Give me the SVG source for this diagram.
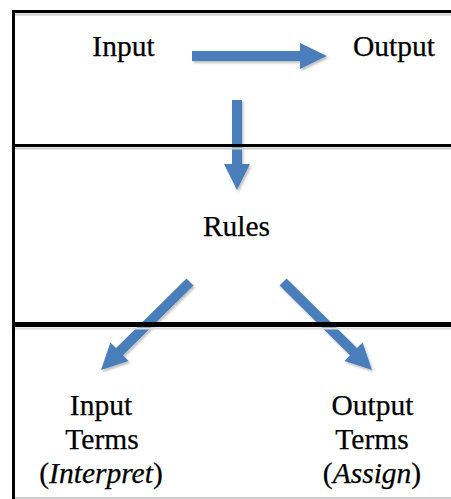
<svg xmlns="http://www.w3.org/2000/svg" width="451" height="499" viewBox="0 0 451 499">
  <defs>
    <filter id="sh" x="-20%" y="-20%" width="140%" height="140%">
      <feDropShadow dx="1.5" dy="2" stdDeviation="1" flood-color="#000" flood-opacity="0.25"/>
    </filter>
  </defs>
  <style>
    .arrow { fill: #4A7EBB; filter: url(#sh); }
    .frame { stroke: #000; fill: none; }
    .lbl { font-family: 'Liberation Serif', 'Times New Roman', serif; font-size: 29.5px; fill: #000; stroke: #000; stroke-width: 0.25px; text-anchor: middle; }
    .it { font-style: italic; }
  </style>
  <rect width="451" height="499" fill="#fff"/>

  <g id="connectors">
    <polygon class="arrow" points="192,51 300,51 300,43 327,56 300,69 300,61 192,61"/>
    <polygon class="arrow" points="232,100 242,100 242,164 250,164 237,190 224,164 232,164"/>
    <polygon class="arrow" points="193.5,285.6 123,355.3 128.6,360.9 101,370 110.4,342.5 116,348.1 186.5,278.4"/>
    <polygon class="arrow" points="286.5,278.4 357,348.1 362.6,342.5 372,370 344.4,360.9 350,355.3 279.5,285.6"/>
  </g>

  <g id="frame">
    <line class="frame" x1="13.5" y1="10" x2="13.5" y2="499" stroke-width="3"/>
    <line class="frame" x1="12" y1="11.5" x2="451" y2="11.5" stroke-width="3"/>
    <line x1="15" y1="14.5" x2="451" y2="14.5" stroke="#ccc" stroke-width="2"/>
    <line class="frame" x1="12" y1="145.5" x2="451" y2="145.5" stroke-width="3"/>
    <line x1="15" y1="148.5" x2="451" y2="148.5" stroke="#ccc" stroke-width="2"/>
    <line class="frame" x1="12" y1="324.5" x2="451" y2="324.5" stroke-width="5"/>
    <line x1="15" y1="328.5" x2="451" y2="328.5" stroke="#ddd" stroke-width="2"/>
    <line x1="15" y1="498" x2="451" y2="498" stroke="#bbb" stroke-width="1.5"/>
  </g>

  <g id="input">
    <text class="lbl" x="123.5" y="56">Input</text>
  </g>
  <g id="output">
    <text class="lbl" x="394" y="56">Output</text>
  </g>
  <g id="rules">
    <text class="lbl" x="236.5" y="236">Rules</text>
  </g>
  <g id="input-terms">
    <text class="lbl" x="101" y="415">Input</text>
    <text class="lbl" x="102" y="449">Terms</text>
    <text class="lbl" x="101" y="483">(<tspan class="it">Interpret</tspan>)</text>
  </g>
  <g id="output-terms">
    <text class="lbl" x="372.5" y="415">Output</text>
    <text class="lbl" x="372" y="449">Terms</text>
    <text class="lbl" x="372" y="483">(<tspan class="it">Assign</tspan>)</text>
  </g>
</svg>
